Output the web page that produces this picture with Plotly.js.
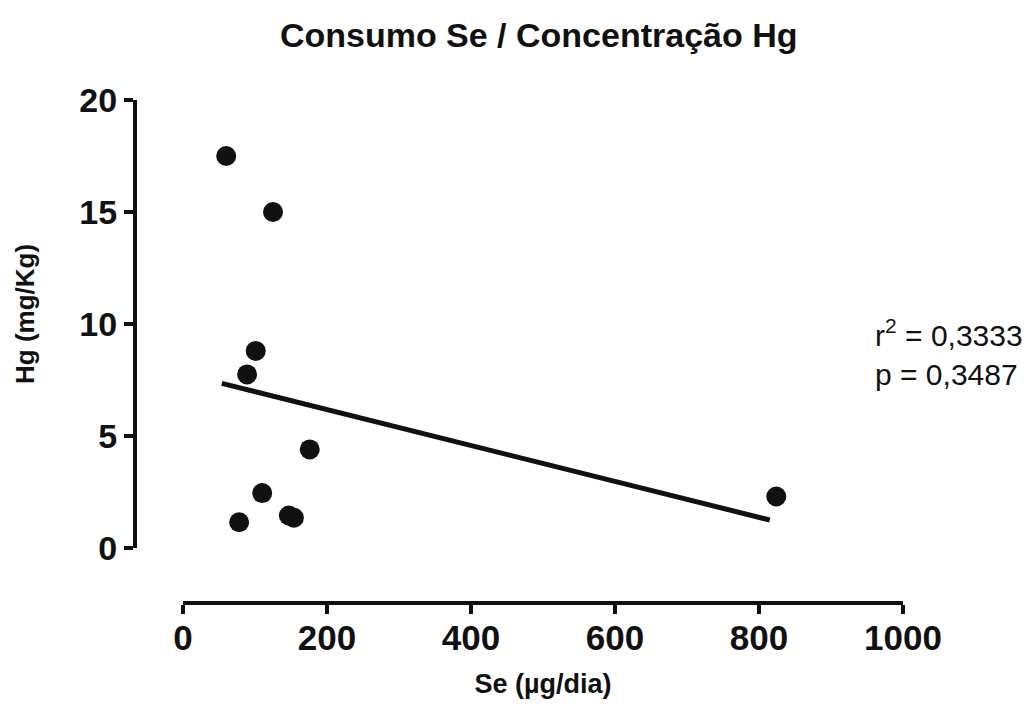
<!DOCTYPE html>
<html>
<head>
<meta charset="utf-8">
<script src="https://cdn.plot.ly/plotly-3.0.1.min.js"></script>
<style>html,body{margin:0;padding:0;background:#fff;}#chart{width:1032px;height:704px;}</style>
</head>
<body>
<div id="chart"></div>
<script>
// Data
var seIntake = [60, 125, 101, 89, 176, 110, 78, 147, 154, 824];
var hgConc   = [17.5, 15.0, 8.8, 7.75, 4.4, 2.45, 1.15, 1.45, 1.35, 2.3];
var fitX = [54, 815];
var fitY = [7.35, 1.25];
var xTicks = [0, 200, 400, 600, 800, 1000];
var yTicks = [0, 5, 10, 15, 20];
var statsText = ["r<sup>2</sup> = 0,3333", "p = 0,3487"];
var yTitleText = "Hg (mg/Kg)";

var FONT = "Liberation Sans, Arial, Helvetica, sans-serif";

var traces = [
  {
    x: seIntake, y: hgConc, type: "scatter", mode: "markers",
    marker: {color: "#111111", size: 20},
    cliponaxis: false, showlegend: false, hoverinfo: "x+y"
  },
  {
    x: fitX, y: fitY, type: "scatter", mode: "lines",
    line: {color: "#111111", width: 5},
    cliponaxis: false, showlegend: false, hoverinfo: "skip"
  }
];

var layout = {
  width: 1032, height: 704,
  paper_bgcolor: "#ffffff", plot_bgcolor: "#ffffff",
  margin: {l: 135, r: 129, t: 100, b: 101},
  font: {family: FONT, color: "#111111"},
  showlegend: false,
  title: {
    text: "Consumo Se / Concentração Hg",
    font: {family: FONT, size: 34, weight: 700, color: "#111111"},
    xref: "container", yref: "container",
    x: 0.522, xanchor: "center", y: 1 - 35/704, yanchor: "middle"
  },
  xaxis: {
    domain: [48/768, 1],
    anchor: "free", position: 0,
    range: [0, 1000],
    tickmode: "array", tickvals: xTicks, ticktext: xTicks.map(String),
    ticks: "outside", ticklen: 9, tickwidth: 4, tickcolor: "#111111",
    ticklabelstandoff: -6,
    showline: true, linewidth: 4, linecolor: "#111111",
    showgrid: false, zeroline: false,
    tickfont: {family: FONT, size: 35, weight: 700, color: "#111111"},
    title: {text: "Se (µg/dia)", font: {family: FONT, size: 27, weight: 700, color: "#111111"}, standoff: 17}
  },
  yaxis: {
    domain: [55/503, 1],
    anchor: "free", position: 0,
    range: [0, 20],
    tickmode: "array", tickvals: yTicks, ticktext: yTicks.map(String),
    ticks: "outside", ticklen: 9, tickwidth: 4, tickcolor: "#111111",
    showline: true, linewidth: 4, linecolor: "#111111",
    showgrid: false, zeroline: false,
    tickfont: {family: FONT, size: 34, weight: 700, color: "#111111"}
  },
  annotations: [
    {
      xref: "paper", yref: "paper",
      x: (873 - 135) / 768, xanchor: "left",
      y: 1 - (352 - 100) / 503, yanchor: "middle",
      align: "left", showarrow: false,
      text: statsText.join("<br>"),
      font: {family: FONT, size: 30, color: "#111111"}
    },
    {
      xref: "paper", yref: "paper",
      x: (25 - 135) / 768, xanchor: "center",
      y: 1 - (314 - 100) / 503, yanchor: "middle",
      textangle: -90, showarrow: false,
      text: yTitleText,
      font: {family: FONT, size: 26, weight: 700, color: "#111111"}
    }
  ]
};

Plotly.newPlot("chart", traces, layout, {displayModeBar: false, staticPlot: true});
</script>
</body>
</html>
